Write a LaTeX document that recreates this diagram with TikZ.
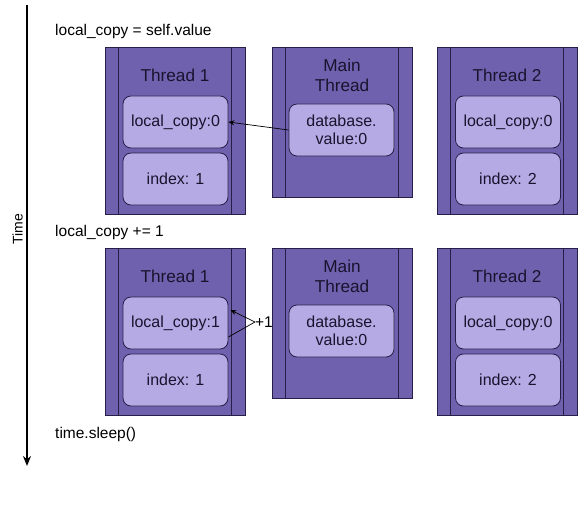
\documentclass[tikz,border=0pt]{standalone}
\usepackage{fontspec}
\setmainfont{Liberation Sans}
\usetikzlibrary{arrows.meta,calc}
\definecolor{outerfill}{RGB}{112,97,174}
\definecolor{innerfill}{RGB}{182,170,229}
\definecolor{edge}{RGB}{38,32,72}
\definecolor{txt}{RGB}{24,20,46}
\tikzset{
  threadbox/.style={draw=edge, fill=outerfill, line width=0.8pt, minimum width=140pt, inner sep=0pt},
  cellbox/.style={draw=edge, fill=innerfill, line width=0.8pt, rounded corners=8pt, minimum width=105pt, minimum height=52pt, inner sep=0pt, text=txt, font=\fontsize{16}{18.5}\selectfont, align=center},
  titletext/.style={text=txt, font=\fontsize{17.2}{20}\selectfont, align=center, inner sep=0pt},
  steptext/.style={anchor=west, inner sep=0pt, font=\fontsize{15.5}{18}\selectfont, text=black},
  sideline/.style={draw=edge, line width=0.8pt},
  ptr/.style={-{Stealth[length=6pt,width=5pt]}, line width=0.7pt, draw=black},
  plain/.style={line width=0.7pt, draw=black}
}
\begin{document}
\begin{tikzpicture}[x=1pt,y=-1pt]
\useasboundingbox (0,0) rectangle (586,508);
% time axis
\coordinate (ttop) at (27,5);
\coordinate (tbot) at (27,466);
\draw[line width=1.6pt, -{Stealth[length=10pt,width=8pt]}] (ttop) -- (tbot);
\node[rotate=90, font=\fontsize{14}{16}\selectfont, inner sep=0pt] (timelbl) at (17.5,229) {Time};

% step labels
\node[steptext] (s1) at (55,31) {local\_copy = self.value};
\node[steptext] (s2) at (55,232) {local\_copy += 1};
\node[steptext] (s3) at (55,434) {time.sleep()};

% ---------- top row ----------
\node[threadbox, minimum height=167pt] (t1a) at (175,130.5) {};
\node[threadbox, minimum height=150pt] (ma) at (342,122) {};
\node[threadbox, minimum height=167pt] (t2a) at (507,130.5) {};
\foreach \b in {t1a,ma,t2a}{
  \draw[sideline] ($(\b.north west)+(14,0)$) -- ($(\b.south west)+(14,0)$);
  \draw[sideline] ($(\b.north east)+(-14,0)$) -- ($(\b.south east)+(-14,0)$);
}
\node[titletext] (t1atitle) at (175,75) {Thread 1};
\node[titletext] (matitle) at (342,75) {Main\\Thread};
\node[titletext] (t2atitle) at (507,75) {Thread 2};

\node[cellbox] (lc1a) at (175.5,122) {local\_copy:0};
\node[cellbox] (ix1a) at (175.5,179) {index: 1};
\node[cellbox] (dba) at (341.5,130) {database.\\value:0};
\node[cellbox] (lc2a) at (508,122) {local\_copy:0};
\node[cellbox] (ix2a) at (508,179) {index: 2};

\draw[ptr] (dba.west) -- (lc1a.east);

% ---------- bottom row ----------
\node[threadbox, minimum height=167pt] (t1b) at (175,331.5) {};
\node[threadbox, minimum height=150pt] (mb) at (342,323) {};
\node[threadbox, minimum height=167pt] (t2b) at (507,331.5) {};
\foreach \b in {t1b,mb,t2b}{
  \draw[sideline] ($(\b.north west)+(14,0)$) -- ($(\b.south west)+(14,0)$);
  \draw[sideline] ($(\b.north east)+(-14,0)$) -- ($(\b.south east)+(-14,0)$);
}
\node[titletext] (t1btitle) at (175,276) {Thread 1};
\node[titletext] (mbtitle) at (342,276) {Main\\Thread};
\node[titletext] (t2btitle) at (507,276) {Thread 2};

\node[cellbox] (lc1b) at (175.5,323) {local\_copy:1};
\node[cellbox] (ix1b) at (175.5,380) {index: 1};
\node[cellbox] (dbb) at (341.5,331) {database.\\value:0};
\node[cellbox] (lc2b) at (508,323) {local\_copy:0};
\node[cellbox] (ix2b) at (508,380) {index: 2};

\node[inner sep=0pt, font=\fontsize{15.5}{18}\selectfont] (plus) at (264,322) {+1};
\draw[plain] ($(lc1b.east)+(0,14)$) -- (plus.west);
\draw[ptr] (plus.west) -- ($(lc1b.east)+(2,-13)$);
\end{tikzpicture}
\end{document}
